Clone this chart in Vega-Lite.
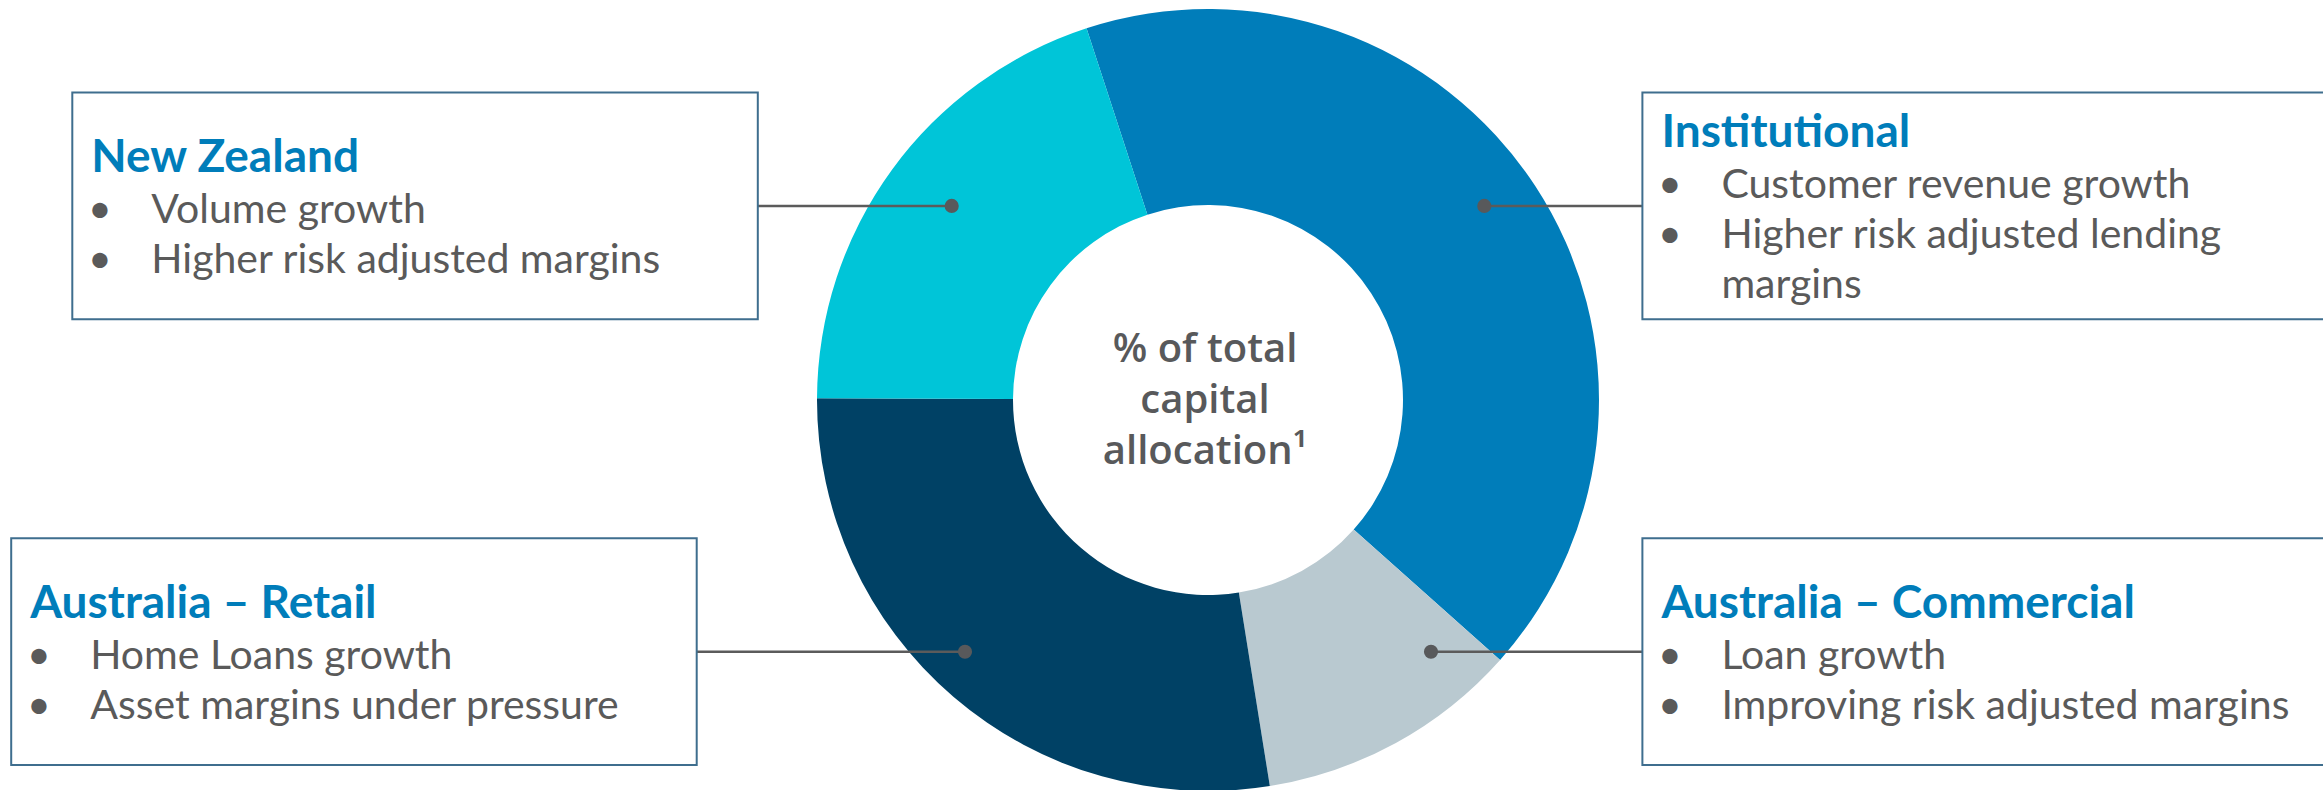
{
  "$schema": "https://vega.github.io/schema/vega-lite/v6.json",
  "width": 2230,
  "height": 780,
  "autosize": {"type": "none"},
  "padding": {"left": 93, "top": 10, "right": 0, "bottom": 0},
  "background": "white",
  "config": {"view": {"stroke": null}},
  "datasets": {
    "segments": [
      {"segment": "Institutional", "share": 41.6, "rank": 1, "side": "right", "tier": "top"},
      {"segment": "Australia – Commercial", "share": 10.9, "rank": 2, "side": "right", "tier": "bottom"},
      {"segment": "Australia – Retail", "share": 27.6, "rank": 3, "side": "left", "tier": "bottom"},
      {"segment": "New Zealand", "share": 19.9, "rank": 4, "side": "left", "tier": "top"}
    ],
    "lines": [
      {"segment": "New Zealand", "side": "left", "tier": "top", "kind": "title", "line": 1, "label": "New Zealand"},
      {"segment": "New Zealand", "side": "left", "tier": "top", "kind": "bullet", "line": 3, "label": "Volume growth"},
      {"segment": "New Zealand", "side": "left", "tier": "top", "kind": "bullet", "line": 5, "label": "Higher risk adjusted margins"},
      {"segment": "Institutional", "side": "right", "tier": "top", "kind": "title", "line": 0, "label": "Institutional"},
      {"segment": "Institutional", "side": "right", "tier": "top", "kind": "bullet", "line": 2, "label": "Customer revenue growth"},
      {"segment": "Institutional", "side": "right", "tier": "top", "kind": "bullet", "line": 4, "label": "Higher risk adjusted lending"},
      {"segment": "Institutional", "side": "right", "tier": "top", "kind": "continued", "line": 6, "label": "margins"},
      {"segment": "Australia – Retail", "side": "left", "tier": "bottom", "kind": "title", "line": 1, "label": "Australia – Retail"},
      {"segment": "Australia – Retail", "side": "left", "tier": "bottom", "kind": "bullet", "line": 3, "label": "Home Loans growth"},
      {"segment": "Australia – Retail", "side": "left", "tier": "bottom", "kind": "bullet", "line": 5, "label": "Asset margins under pressure"},
      {"segment": "Australia – Commercial", "side": "right", "tier": "bottom", "kind": "title", "line": 1, "label": "Australia – Commercial"},
      {"segment": "Australia – Commercial", "side": "right", "tier": "bottom", "kind": "bullet", "line": 3, "label": "Loan growth"},
      {"segment": "Australia – Commercial", "side": "right", "tier": "bottom", "kind": "bullet", "line": 5, "label": "Improving risk adjusted margins"}
    ],
    "centre": [
      {"label": "% of total\ncapital\nallocation¹"}
    ]
  },
  "resolve": {"scale": {"x": "independent"}},
  "layer": [
    {
      "data": {"name": "segments"},
      "mark": {"type": "arc", "outerRadius": 391, "innerRadius": 195, "strokeWidth": 0},
      "encoding": {
        "theta": {"field": "share", "type": "quantitative", "stack": true, "scale": {"range": [-0.3159, 5.9673]}},
        "order": {"field": "rank", "type": "quantitative"},
        "color": {
          "field": "segment", "type": "nominal", "legend": null,
          "scale": {
            "domain": ["Institutional", "Australia – Commercial", "Australia – Retail", "New Zealand"],
            "range": ["#007DBA", "#B9C9D0", "#004165", "#00C5D8"]
          }
        }
      }
    },
    {
      "data": {"name": "centre"},
      "mark": {"type": "text", "align": "center", "baseline": "middle", "lineBreak": "\n", "lineHeight": 51, "font": "Open Sans", "fontWeight": 600, "fontSize": 40, "color": "#58595B", "dx": -3, "dy": -50},
      "encoding": {"text": {"field": "label", "type": "nominal"}}
    },
    {
      "resolve": {"scale": {"x": "independent"}},
      "layer": [
        {
          "data": {"name": "segments"},
          "transform": [{"filter": "datum.tier === 'top'"}],
          "encoding": {
            "x": {"field": "side", "type": "nominal", "axis": null, "scale": {"type": "point", "domain": ["left-edge", "left", "right", "right-edge"], "range": [326.1, 1923.9], "padding": 0}},
            "y": {"field": "tier", "type": "nominal", "axis": null, "scale": {"type": "band", "domain": ["top", "bottom"], "range": [82.5, 755.1], "paddingInner": 0.49125, "paddingOuter": 0}}
          },
          "layer": [
            {"transform": [{"filter": "datum.side === 'left'"}], "mark": {"type": "rule", "color": "#5B5B5B", "strokeWidth": 2.5}, "encoding": {"x2": {"datum": "left-edge"}}},
            {"transform": [{"filter": "datum.side === 'right'"}], "mark": {"type": "rule", "color": "#5B5B5B", "strokeWidth": 2.5}, "encoding": {"x2": {"datum": "right-edge"}}},
            {"mark": {"type": "point", "filled": true, "size": 200, "color": "#58595B", "opacity": 1, "strokeWidth": 0}}
          ]
        },
        {
          "encoding": {
            "x": {"field": "side", "type": "nominal", "axis": null, "bandPosition": 0, "scale": {"type": "band", "domain": ["left", "right"], "range": [-20.7, 2234.9], "paddingInner": 0.5634, "paddingOuter": 0}},
            "y": {"field": "tier", "type": "nominal", "axis": null, "scale": {"type": "band", "domain": ["top", "bottom"], "range": [82.5, 755.1], "paddingInner": 0.49125, "paddingOuter": 0}}
          },
          "layer": [
            {
              "data": {"name": "segments"},
              "transform": [{"filter": "datum.tier === 'top'"}],
              "mark": {"type": "rect", "fill": "white", "stroke": "#3F6E8E", "strokeWidth": 2},
              "encoding": {"x": {"field": "side", "type": "nominal", "axis": null}}
            },
            {
              "data": {"name": "lines"},
              "transform": [{"filter": "datum.tier === 'top' && datum.kind === 'title'"}],
              "mark": {"type": "text", "align": "left", "baseline": "alphabetic", "dx": 19, "font": "Lato", "fontWeight": "bold", "fontSize": 46, "color": "#007DBA"},
              "encoding": {
                "yOffset": {"field": "line", "type": "ordinal", "scale": {"type": "band", "domain": [0, 1, 2, 3, 4, 5, 6], "range": [42.2, 218.3], "paddingInner": 0, "paddingOuter": 0}},
                "text": {"field": "label", "type": "nominal"}
              }
            },
            {
              "data": {"name": "lines"},
              "transform": [{"filter": "datum.tier === 'top' && datum.kind === 'bullet'"}],
              "mark": {"type": "text", "align": "center", "baseline": "alphabetic", "dx": 27.6, "font": "Lato", "fontSize": 41, "color": "#5A5A5A", "text": "•"},
              "encoding": {
                "yOffset": {"field": "line", "type": "ordinal", "scale": {"type": "band", "domain": [0, 1, 2, 3, 4, 5, 6], "range": [42.2, 218.3], "paddingInner": 0, "paddingOuter": 0}}
              }
            },
            {
              "data": {"name": "lines"},
              "transform": [{"filter": "datum.tier === 'top' && datum.kind !== 'title'"}],
              "mark": {"type": "text", "align": "left", "baseline": "alphabetic", "dx": 79, "font": "Lato", "fontSize": 41, "color": "#5A5A5A"},
              "encoding": {
                "yOffset": {"field": "line", "type": "ordinal", "scale": {"type": "band", "domain": [0, 1, 2, 3, 4, 5, 6], "range": [42.2, 218.3], "paddingInner": 0, "paddingOuter": 0}},
                "text": {"field": "label", "type": "nominal"}
              }
            }
          ]
        }
      ]
    },
    {
      "resolve": {"scale": {"x": "independent"}},
      "layer": [
        {
          "data": {"name": "segments"},
          "transform": [{"filter": "datum.tier === 'bottom'"}],
          "encoding": {
            "x": {"field": "side", "type": "nominal", "axis": null, "scale": {"type": "point", "domain": ["left-edge", "left", "right", "right-edge"], "range": [406, 1804], "padding": 0}},
            "y": {"field": "tier", "type": "nominal", "axis": null, "scale": {"type": "band", "domain": ["top", "bottom"], "range": [82.5, 755.1], "paddingInner": 0.49125, "paddingOuter": 0}}
          },
          "layer": [
            {"transform": [{"filter": "datum.side === 'left'"}], "mark": {"type": "rule", "color": "#5B5B5B", "strokeWidth": 2.5}, "encoding": {"x2": {"datum": "left-edge"}}},
            {"transform": [{"filter": "datum.side === 'right'"}], "mark": {"type": "rule", "color": "#5B5B5B", "strokeWidth": 2.5}, "encoding": {"x2": {"datum": "right-edge"}}},
            {"mark": {"type": "point", "filled": true, "size": 200, "color": "#58595B", "opacity": 1, "strokeWidth": 0}}
          ]
        },
        {
          "encoding": {
            "x": {"field": "side", "type": "nominal", "axis": null, "bandPosition": 0, "scale": {"type": "band", "domain": ["left", "right"], "range": [-81.8, 2234.9], "paddingInner": 0.57975, "paddingOuter": 0}},
            "y": {"field": "tier", "type": "nominal", "axis": null, "scale": {"type": "band", "domain": ["top", "bottom"], "range": [82.5, 755.1], "paddingInner": 0.49125, "paddingOuter": 0}}
          },
          "layer": [
            {
              "data": {"name": "segments"},
              "transform": [{"filter": "datum.tier === 'bottom'"}],
              "mark": {"type": "rect", "fill": "white", "stroke": "#3F6E8E", "strokeWidth": 2},
              "encoding": {"x": {"field": "side", "type": "nominal", "axis": null}}
            },
            {
              "data": {"name": "lines"},
              "transform": [{"filter": "datum.tier === 'bottom' && datum.kind === 'title'"}],
              "mark": {"type": "text", "align": "left", "baseline": "alphabetic", "dx": 19, "font": "Lato", "fontWeight": "bold", "fontSize": 46, "color": "#007DBA"},
              "encoding": {
                "yOffset": {"field": "line", "type": "ordinal", "scale": {"type": "band", "domain": [0, 1, 2, 3, 4, 5, 6], "range": [42.2, 218.3], "paddingInner": 0, "paddingOuter": 0}},
                "text": {"field": "label", "type": "nominal"}
              }
            },
            {
              "data": {"name": "lines"},
              "transform": [{"filter": "datum.tier === 'bottom' && datum.kind === 'bullet'"}],
              "mark": {"type": "text", "align": "center", "baseline": "alphabetic", "dx": 27.6, "font": "Lato", "fontSize": 41, "color": "#5A5A5A", "text": "•"},
              "encoding": {
                "yOffset": {"field": "line", "type": "ordinal", "scale": {"type": "band", "domain": [0, 1, 2, 3, 4, 5, 6], "range": [42.2, 218.3], "paddingInner": 0, "paddingOuter": 0}}
              }
            },
            {
              "data": {"name": "lines"},
              "transform": [{"filter": "datum.tier === 'bottom' && datum.kind !== 'title'"}],
              "mark": {"type": "text", "align": "left", "baseline": "alphabetic", "dx": 79, "font": "Lato", "fontSize": 41, "color": "#5A5A5A"},
              "encoding": {
                "yOffset": {"field": "line", "type": "ordinal", "scale": {"type": "band", "domain": [0, 1, 2, 3, 4, 5, 6], "range": [42.2, 218.3], "paddingInner": 0, "paddingOuter": 0}},
                "text": {"field": "label", "type": "nominal"}
              }
            }
          ]
        }
      ]
    }
  ]
}
